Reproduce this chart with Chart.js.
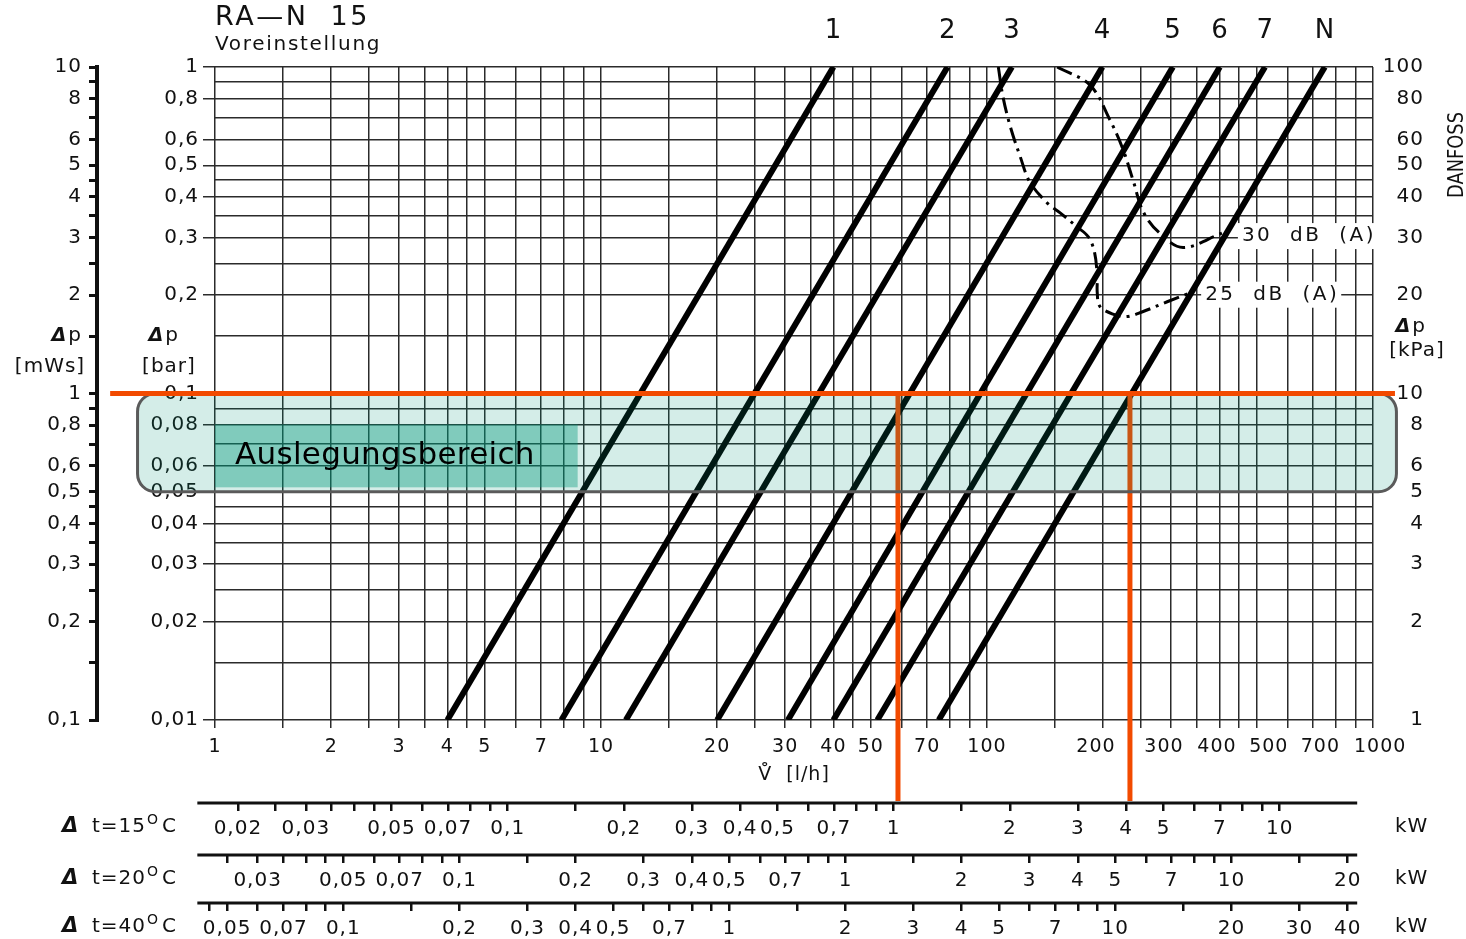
<!DOCTYPE html>
<html>
<head>
<meta charset="utf-8">
<script src="https://cdn.jsdelivr.net/npm/chart.js@4.4.1/dist/chart.umd.min.js"></script>
<style>
html, body { margin: 0; padding: 0; background: #fff; }
</style>
</head>
<body>
<canvas id="myChart" width="1466" height="939"></canvas>
<script>
// Voreinstellungen RA-N 15: Durchfluss bei 0,01 bar und bei 1 bar
const settings  = ['1', '2', '3', '4', '5', '6', '7', 'N'];
const flowAtMin = [4, 7.9, 11.6, 20, 30.5, 40, 52, 75];     // l/h bei 0,01 bar
const flowAtMax = [40, 79, 116, 199, 303, 401, 525, 750];   // l/h bei 1 bar

// Geraeuschgrenzen (l/h, bar)
const db30Flow = [152, 185, 208, 225, 239, 254, 280, 322, 406];
const db30Dp   = [1.0, 0.88, 0.69, 0.56, 0.45, 0.36, 0.31, 0.28, 0.31];
const db25Flow = [107, 110, 115, 122, 129, 143, 155, 171, 183, 190, 193, 193, 196, 212, 230, 253, 293, 342];
const db25Dp   = [1.0, 0.81, 0.655, 0.53, 0.445, 0.384, 0.357, 0.324, 0.302, 0.27, 0.228, 0.204, 0.185, 0.175, 0.172, 0.178, 0.191, 0.205];

// Gitter und Beschriftungen
const gridSteps  = [1, 1.5, 2, 2.5, 3, 3.5, 4, 4.5, 5, 6, 7, 8, 9];
const flowLabels = [1, 2, 3, 4, 5, 7, 10, 20, 30, 40, 50, 70, 100, 200, 300, 400, 500, 700, 1000];
const barLabels  = [1, 0.8, 0.6, 0.5, 0.4, 0.3, 0.2, 0.1, 0.08, 0.06, 0.05, 0.04, 0.03, 0.02, 0.01];
const mwsLabels  = [10, 8, 6, 5, 4, 3, 2, 1, 0.8, 0.6, 0.5, 0.4, 0.3, 0.2, 0.1];
const kpaLabels  = [100, 80, 60, 50, 40, 30, 20, 10, 8, 6, 5, 4, 3, 2, 1];

// Waermeleistung bei dt = 15 / 20 / 40 K
const deltaT = [15, 20, 40];
const kw15Ticks  = [0.02, 0.025, 0.03, 0.035, 0.04, 0.045, 0.05, 0.06, 0.07, 0.08, 0.09, 0.1, 0.15, 0.2, 0.3, 0.4, 0.5, 0.6, 0.7, 0.8, 0.9, 1, 1.5, 2, 3, 4, 5, 6, 7, 8, 9, 10];
const kw15Labels = [0.02, 0.03, 0.05, 0.07, 0.1, 0.2, 0.3, 0.4, 0.5, 0.7, 1, 2, 3, 4, 5, 7, 10];
const kw20Ticks  = [0.025, 0.03, 0.035, 0.04, 0.045, 0.05, 0.06, 0.07, 0.08, 0.09, 0.1, 0.15, 0.2, 0.3, 0.4, 0.5, 0.6, 0.7, 0.8, 0.9, 1, 1.5, 2, 3, 4, 5, 6, 7, 8, 9, 10, 15, 20];
const kw20Labels = [0.03, 0.05, 0.07, 0.1, 0.2, 0.3, 0.4, 0.5, 0.7, 1, 2, 3, 4, 5, 7, 10, 20];
const kw40Ticks  = [0.045, 0.05, 0.06, 0.07, 0.08, 0.09, 0.1, 0.15, 0.2, 0.3, 0.4, 0.5, 0.6, 0.7, 0.8, 0.9, 1, 1.5, 2, 3, 4, 5, 6, 7, 8, 9, 10, 15, 20, 30, 40];
const kw40Labels = [0.05, 0.07, 0.1, 0.2, 0.3, 0.4, 0.5, 0.7, 1, 2, 3, 4, 5, 7, 10, 20, 30, 40];

// Auslegungsbereich
const bandDp      = [0.05, 0.1];
const bandFlow    = [0.63, 1150];
const designDp    = 0.1;
const designFlow  = [58.8, 234.6];
const orangeFlow  = [0.535, 1140];
const labelFlow   = [1, 8.7];
const labelDp     = [0.0516, 0.0804];
const rulerFlow   = [0.9, 910];

const fam = '"DejaVu Sans", sans-serif';
const ink = '#111';
const tickFont = {family: 'DejaVu Sans', size: 20};
// Beschriftung der Durchflussachse leicht versetzt wie im Original (px)
const flowLabelShift = {200: -8, 300: -7, 400: -3, 500: 11, 700: 8, 1000: 8};

function has(list, v) { return list.some(x => Math.abs(x - v) <= Math.abs(x) * 1e-6); }
function fmt(v) { return String(+(+v).toPrecision(3)).replace('.', ','); }
function decadeTicks(min, max) {
	const out = [];
	for (let d = min; d < max * 0.999; d *= 10) {
		gridSteps.forEach(s => out.push(+(s * d).toPrecision(3)));
	}
	out.push(max);
	return out;
}
function fixedTicks(list) { return function(scale) { scale.ticks = list.map(v => ({value: v})); }; }
function labelFrom(list) { return function(value) { return has(list, value) ? fmt(value) : ''; }; }
function flowLabel(value) {
	if (!has(flowLabels, value)) return '';
	const s = fmt(value);
	const shift = flowLabelShift[+value.toPrecision(3)] || 0;
	const pad = '\u2009'.repeat(Math.round(Math.abs(shift) / 2.4));
	return shift > 0 ? pad + s : s + pad;
}
function kwFactor(dt) { return 1.163 * dt / 1000; }   // kW je l/h

function kwAxis(i, ticks, labels, h) {
	const f = kwFactor(deltaT[i]);
	return {
		type: 'logarithmic', position: 'bottom', weight: i + 1,
		min: f * 1, max: f * 1000,
		afterBuildTicks: fixedTicks(ticks),
		afterFit: s => { s.height = h; },
		border: {display: false},
		grid: {drawOnChartArea: false, tickLength: 8, lineWidth: 2.5, tickWidth: 2.5, tickColor: ink, color: ink},
		ticks: {autoSkip: false, maxRotation: 0, padding: 6, color: ink, font: tickFont, callback: labelFrom(labels)}
	};
}

const lineSets = settings.map((name, i) => ({
	label: 'Voreinstellung ' + name,
	data: [{x: flowAtMin[i], y: 0.01}, {x: flowAtMax[i], y: 1}],
	showLine: true, borderColor: '#000', borderWidth: 6, pointRadius: 0
}));
function curve(label, xs, ys) {
	return {
		label: label,
		data: xs.map((q, i) => ({x: q, y: ys[i]})),
		showLine: true, borderColor: '#000', borderWidth: 3, borderDash: [16, 6, 3, 6],
		pointRadius: 0, tension: 0.35
	};
}

function text(ctx, s, x, y, font, align) {
	ctx.font = font;
	ctx.textAlign = align || 'left';
	ctx.textBaseline = 'middle';
	ctx.fillText(s, x, y);
}
function deltaP(ctx, x, y) {
	// fettes Delta + p, rechtsbuendig bis x
	ctx.font = '20px ' + fam;
	const wp = ctx.measureText('p').width;
	text(ctx, 'p', x - wp, y, '20px ' + fam);
	text(ctx, '\u0394', x - wp - 1, y, 'bold italic 19px ' + fam, 'right');
}

const extras = {
	id: 'extras',
	beforeLayout(chart) {
		// breitere Schrift wie im Original
		chart.ctx.letterSpacing = '1px';
	},
	afterDraw(chart) {
		const {ctx, chartArea: area, scales} = chart;
		const x = scales.x, y = scales.y;
		ctx.save();
		ctx.letterSpacing = '0.5px';

		// orange Senkrechte (Auslegungspunkte)
		const yd = y.getPixelForValue(designDp);
		ctx.strokeStyle = '#f24a00';
		ctx.lineWidth = 5;
		designFlow.forEach(q => {
			const px = x.getPixelForValue(q);
			ctx.beginPath(); ctx.moveTo(px, yd); ctx.lineTo(px, scales.k15.top - 2); ctx.stroke();
		});

		// Auslegungsbereich
		const bx0 = x.getPixelForValue(bandFlow[0]), bx1 = x.getPixelForValue(bandFlow[1]);
		const by0 = y.getPixelForValue(bandDp[1]), by1 = y.getPixelForValue(bandDp[0]);
		ctx.beginPath();
		ctx.roundRect(bx0, by0, bx1 - bx0, by1 - by0, 18);
		ctx.fillStyle = 'rgba(0,150,120,0.17)';
		ctx.fill();
		ctx.lineWidth = 3;
		ctx.strokeStyle = '#5a5a5a';
		ctx.stroke();

		const lx0 = x.getPixelForValue(labelFlow[0]), lx1 = x.getPixelForValue(labelFlow[1]);
		const ly0 = y.getPixelForValue(labelDp[1]), ly1 = y.getPixelForValue(labelDp[0]);
		ctx.fillStyle = 'rgba(0,150,120,0.4)';
		ctx.fillRect(lx0, ly0, lx1 - lx0, ly1 - ly0);
		ctx.fillStyle = '#000';
		ctx.letterSpacing = '0.3px';
		text(ctx, 'Auslegungsbereich', lx0 + 20, (ly0 + ly1) / 2, '31px ' + fam);
		ctx.letterSpacing = '0.5px';

		// orange Waagerechte bei 0,1 bar
		ctx.strokeStyle = '#f24a00';
		ctx.lineWidth = 5;
		ctx.beginPath();
		ctx.moveTo(x.getPixelForValue(orangeFlow[0]), yd);
		ctx.lineTo(x.getPixelForValue(orangeFlow[1]), yd);
		ctx.stroke();

		// dB-Beschriftung
		ctx.letterSpacing = '2.5px';
		[[db30Flow, db30Dp, '30  dB  (A)', 20], [db25Flow, db25Dp, '25  dB  (A)', 12]].forEach(c => {
			const n = c[0].length - 1;
			const px = x.getPixelForValue(c[0][n]) + c[3];
			const py = y.getPixelForValue(c[1][n]) + 3;
			ctx.font = '20px ' + fam;
			const w = ctx.measureText(c[2]).width;
			ctx.fillStyle = '#fff';
			ctx.fillRect(px - 4, py - 13, w + 6, 26);
			ctx.fillStyle = ink;
			text(ctx, c[2], px, py, '20px ' + fam);
		});

		ctx.fillStyle = ink;
		// Kopf
		ctx.letterSpacing = '2.5px';
		text(ctx, 'RA\u2014N  15', area.left, 18, '27px ' + fam);
		ctx.letterSpacing = '1.7px';
		text(ctx, 'Voreinstellung', area.left, 45, '20px ' + fam);
		ctx.letterSpacing = '0.5px';
		settings.forEach((name, i) => {
			text(ctx, name, x.getPixelForValue(flowAtMax[i]), area.top - 36, '26px ' + fam, 'center');
		});

		// Achsentitel links / rechts
		ctx.letterSpacing = '1px';
		const ym = scales.yM.getPixelForValue(1.5);
		deltaP(ctx, 82, ym);
		text(ctx, '[mWs]', 50, ym + 31, '20px ' + fam, 'center');
		deltaP(ctx, 179, ym);
		text(ctx, '[bar]', 169, ym + 31, '20px ' + fam, 'center');
		const yk = scales.yK.getPixelForValue(15);
		deltaP(ctx, 1426, yk - 9);
		text(ctx, '[kPa]', 1417, yk + 15, '20px ' + fam, 'center');

		// DANFOSS senkrecht
		ctx.save();
		ctx.translate(1458, area.top + 88);
		ctx.rotate(-Math.PI / 2);
		ctx.letterSpacing = '0px';
		ctx.font = '21px ' + fam;
		const dw = ctx.measureText('DANFOSS').width;
		ctx.scale(86 / dw, 1);
		text(ctx, 'DANFOSS', 0, 0, '21px ' + fam, 'center');
		ctx.restore();

		// Leistungsskalen
		['k15', 'k20', 'k40'].forEach((id, i) => {
			const s = scales[id];
			ctx.strokeStyle = ink;
			ctx.lineWidth = 3;
			ctx.beginPath();
			ctx.moveTo(x.getPixelForValue(rulerFlow[0]), s.top);
			ctx.lineTo(x.getPixelForValue(rulerFlow[1]), s.top);
			ctx.stroke();
			const ty = s.top + 24;
			text(ctx, '\u0394', 62, ty, 'bold italic 21px ' + fam);
			const t = 't=' + deltaT[i];
			text(ctx, t, 92, ty, '20px ' + fam);
			const w = ctx.measureText(t).width;
			text(ctx, 'O', 92 + w + 1, ty - 7, '14px ' + fam);
			text(ctx, 'C', 92 + w + 16, ty, '20px ' + fam);
			text(ctx, 'kW', s.right + 22, ty, '20px ' + fam);
		});
		ctx.restore();
	}
};

new Chart(document.getElementById('myChart'), {
	type: 'scatter',
	data: {
		datasets: lineSets.concat([
			curve('30 dB (A)', db30Flow, db30Dp),
			curve('25 dB (A)', db25Flow, db25Dp)
		])
	},
	options: {
		responsive: false,
		animation: false,
		layout: {padding: {top: 67, right: 42, bottom: 0, left: 0}},
		plugins: {legend: {display: false}, tooltip: {enabled: false}},
		scales: {
			x: {
				type: 'logarithmic', position: 'bottom', weight: 0, min: 1, max: 1000,
				afterBuildTicks: fixedTicks(decadeTicks(1, 1000)),
				afterFit: s => { s.height = 83; },
				border: {display: false},
				grid: {color: '#2b2b2b', lineWidth: 1.5, tickLength: 8, tickColor: '#2b2b2b'},
				ticks: {autoSkip: false, maxRotation: 0, padding: 8, color: ink, font: {family: 'DejaVu Sans', size: 19}, callback: flowLabel},
				title: {display: true, text: 'V\u030A  [l/h]', color: ink, font: {family: 'DejaVu Sans', size: 19}, padding: {top: 0, bottom: 17}}
			},
			k15: kwAxis(0, kw15Ticks, kw15Labels, 52),
			k20: kwAxis(1, kw20Ticks, kw20Labels, 48),
			k40: kwAxis(2, kw40Ticks, kw40Labels, 36),
			y: {
				type: 'logarithmic', position: 'left', weight: 0, min: 0.01, max: 1,
				afterBuildTicks: fixedTicks(decadeTicks(0.01, 1)),
				afterFit: s => { s.width = 118; },
				border: {display: false},
				grid: {
					color: '#2b2b2b', lineWidth: 1.5, tickLength: 12,
					tickColor: c => (c.tick && has(barLabels, c.tick.value)) ? '#2b2b2b' : 'rgba(0,0,0,0)'
				},
				ticks: {autoSkip: false, padding: 4, color: ink, font: tickFont, callback: labelFrom(barLabels)}
			},
			yM: {
				type: 'logarithmic', position: 'left', weight: 1, min: 0.1, max: 10,
				afterBuildTicks: fixedTicks(decadeTicks(0.1, 10)),
				afterFit: s => { s.width = 97; },
				border: {display: true, color: ink, width: 4},
				grid: {drawOnChartArea: false, tickLength: 8, lineWidth: 3, color: ink},
				ticks: {autoSkip: false, padding: 7, color: ink, font: tickFont, callback: labelFrom(mwsLabels)}
			},
			yK: {
				type: 'logarithmic', position: 'right', min: 1, max: 100,
				afterBuildTicks: fixedTicks(kpaLabels),
				afterFit: s => { s.width = 51; },
				border: {display: false},
				grid: {display: false},
				ticks: {autoSkip: false, crossAlign: 'far', padding: 8, color: ink, font: tickFont, callback: v => fmt(v)}
			}
		}
	},
	plugins: [extras]
});
</script>
</body>
</html>
